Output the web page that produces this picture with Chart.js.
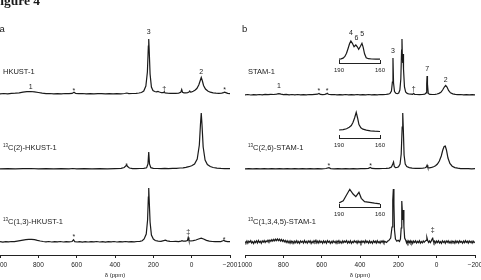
<!DOCTYPE html>
<html>
<head>
<meta charset="utf-8">
<script src="https://cdn.jsdelivr.net/npm/chart.js@4.4.1/dist/chart.umd.min.js"></script>
<style>
  body { margin:0; width:481px; height:280px; overflow:hidden; position:relative; background:#fff;
         font-family:"Liberation Sans", Arial, sans-serif; color:#1a1a1a; }
  canvas { position:absolute; }
  .lbl { position:absolute; font-size:7.5px; line-height:7.5px; white-space:nowrap; }
  .lbl sup { font-size:4.5px; vertical-align:2.6px; line-height:0; }
  .panel { position:absolute; font-size:9.5px; line-height:9.5px; }
  #fig { position:absolute; left:-8px; top:-6px; font:bold 13.5px/13.5px "Liberation Serif", serif; white-space:nowrap; }
</style>
</head>
<body>
<canvas id="specA" width="280" height="280" style="left:-30px;top:0"></canvas>
<canvas id="specB" width="280" height="280" style="left:215px;top:0"></canvas>
<canvas id="insetTop" width="81" height="60" style="left:319px;top:20px"></canvas>
<canvas id="insetMid" width="81" height="55" style="left:319px;top:100px"></canvas>
<canvas id="insetBot" width="81" height="44" style="left:319px;top:180px"></canvas>

<div id="fig">Figure 4</div>
<div class="panel" style="left:-0.5px;top:23.5px">a</div>
<div class="panel" style="left:242px;top:23.5px">b</div>
<div class="lbl" style="left:3px;top:68px">HKUST-1</div>
<div class="lbl" style="left:3px;top:143.5px"><sup>13</sup>C(2)-HKUST-1</div>
<div class="lbl" style="left:3px;top:218px"><sup>13</sup>C(1,3)-HKUST-1</div>
<div class="lbl" style="left:248px;top:68px">STAM-1</div>
<div class="lbl" style="left:248px;top:143.5px"><sup>13</sup>C(2,6)-STAM-1</div>
<div class="lbl" style="left:248px;top:218px"><sup>13</sup>C(1,3,4,5)-STAM-1</div>

<script>
const INK = '#1a1a1a';
const SANS = '"Liberation Sans", Arial, sans-serif';

// chemical shift ranges (ppm)
const ppmRange = [1000, -200];
const ppmStep = 200;
const insetRange = [190, 160];

// spectra, [ppm, intensity]
const hkust = [[1000,0.2],[980,0.5],[960,0.2],[940,0.6],[920,0.8],[900,1.2],[880,1.8],[860,2.3],[840,2.5],[820,2.2],[800,1.5],[780,0.8],[760,0.3],[740,0.5],[720,0.1],[700,0.4],[680,0.2],[660,0.5],[640,0.3],[624,0.6],[614,1.8],[605,0.5],[590,0.3],[570,0.5],[550,0.2],[530,0.4],[510,0.1],[490,0.4],[470,0.3],[450,0.1],[430,0.4],[410,0.2],[390,0.4],[370,0.2],[350,0.5],[338,1],[328,0.4],[310,0.5],[290,0.7],[275,1],[262,1.5],[250,3],[239,8],[231,22],[226,48],[224,55],[222,46],[217,20],[210,7],[202,3.5],[193,2.5],[184,2.2],[176,2.6],[168,2],[158,1.3],[148,1.3],[143,2.2],[139,1.1],[126,0.8],[112,0.6],[98,0.7],[83,0.6],[68,0.9],[57,1.6],[52,4.5],[48,1.8],[40,1.2],[30,1.2],[21,1.4],[14,2],[10,3],[6,2],[0,2.2],[-8,2.8],[-17,3.8],[-27,5.5],[-37,9],[-44,13],[-50,16.5],[-56,13],[-62,8.5],[-72,5],[-84,3],[-97,1.8],[-112,1.1],[-127,0.8],[-142,0.6],[-157,0.9],[-166,1.4],[-172,1.8],[-178,1.4],[-188,0.6],[-200,0.4]];

const hkustC2 = [[1000,0.2],[960,0.4],[920,0.1],[880,0.3],[840,0.5],[800,0.2],[760,0.4],[720,0.2],[680,0.3],[640,0.1],[620,0.5],[600,0.2],[560,0.3],[520,0.1],[480,0.3],[440,0.2],[400,0.4],[368,0.6],[352,1.5],[343,3.2],[339,3.5],[334,2.5],[325,1],[308,0.4],[290,0.3],[270,0.5],[250,0.7],[235,1.2],[228,5],[224,17],[220,5],[213,1.3],[200,0.6],[180,0.5],[160,0.4],[140,0.6],[120,0.4],[100,0.6],[80,0.7],[60,1],[45,1.2],[30,1.6],[15,2.3],[0,3.2],[-15,5],[-29,10],[-40,24],[-46,45],[-50,56],[-54,44],[-60,22],[-70,9],[-82,4.5],[-97,2.5],[-112,1.5],[-132,0.9],[-152,0.6],[-172,0.4],[-186,0.5],[-200,0.3]];

const hkustC13 = [[1000,0.3],[985,-0.2],[970,0.4],[955,0.1],[940,0.5],[925,0.3],[910,0.8],[895,1.3],[880,1.8],[865,2.3],[850,2.6],[835,2.7],[820,2.3],[805,1.6],[790,1],[775,0.5],[760,0.2],[745,0.5],[730,0],[715,0.4],[700,0.1],[685,0.5],[670,0],[655,0.4],[640,0.1],[624,0.5],[616,2.2],[610,0.3],[598,0],[585,0.4],[570,-0.1],[555,0.3],[540,0],[525,0.4],[510,0.1],[495,0.5],[480,0],[465,0.3],[450,-0.1],[435,0.4],[420,0.1],[405,0.5],[390,0],[375,0.3],[360,0.1],[345,0.5],[330,0.2],[315,0.4],[300,0.1],[285,0.5],[270,0.6],[258,1.2],[248,3],[237,8],[230,22],[226,45],[224,54],[222,44],[217,20],[210,7],[200,3],[190,1.5],[175,0.8],[160,0.7],[146,1.4],[137,1.8],[128,1.2],[113,0.6],[98,0.5],[83,0.6],[68,0.4],[56,0.9],[50,1.4],[44,0.8],[32,0.9],[22,1.5],[18,4.5],[14,1.3],[4,1],[-8,1.3],[-22,2],[-36,3],[-50,3.8],[-62,3],[-77,1.6],[-92,0.8],[-107,0.5],[-122,0.3],[-137,0.5],[-152,0.4],[-163,1.2],[-168,1.8],[-174,0.8],[-187,0.3],[-200,0.4]];

const stam = [[1000,0.2],[985,0.5],[970,0],[955,0.4],[940,0.1],[925,0.5],[910,0.2],[895,0.6],[880,0.3],[865,0.7],[850,0.5],[835,0.9],[823,1.4],[812,0.8],[800,0.4],[785,0.6],[770,0.1],[755,0.5],[740,0.2],[725,0.5],[710,0.1],[695,0.4],[680,0.2],[665,0.5],[650,0.3],[635,0.6],[622,0.8],[614,1.6],[607,0.6],[595,0.4],[583,0.6],[576,1.1],[571,1.7],[565,0.7],[550,0.3],[535,0.5],[520,0.1],[505,0.4],[490,0.2],[475,0.5],[460,0.1],[445,0.4],[430,0.2],[415,0.5],[400,0.1],[385,0.4],[370,0.2],[355,0.5],[340,0.2],[325,0.4],[310,0.1],[295,0.5],[280,0.3],[266,0.5],[254,0.8],[244,1.4],[236,4],[231,13],[228,37],[225,12],[220,3.5],[213,1.8],[205,1.3],[198,2],[192,5],[187,16],[183,45],[181,56],[179,38],[177,32],[175,38],[174,41],[172,26],[168,8],[162,3],[154,1.6],[145,1],[133,0.8],[125,0.7],[120,1.6],[115,0.6],[105,0.5],[90,0.3],[75,0.5],[62,0.8],[55,2.2],[52,11],[50,19],[48,11],[44,1.6],[36,0.6],[22,0.5],[8,0.7],[-2,1],[-12,1.6],[-22,2.6],[-31,5],[-40,8],[-47,9.5],[-54,8],[-62,4.5],[-72,2.2],[-84,1.1],[-97,0.6],[-110,0.3],[-125,0.5],[-140,0.1],[-155,0.4],[-170,0.2],[-185,0.4],[-200,0.2]];

const stamC26 = [[1000,0.2],[980,0.4],[960,0.1],[940,0.3],[920,0.2],[900,0.4],[880,0.1],[860,0.3],[840,0.2],[820,0.4],[800,0.1],[780,0.3],[760,0.2],[740,0.4],[720,0.1],[700,0.3],[680,0.2],[660,0.4],[640,0.2],[620,0.3],[600,0.2],[578,0.5],[562,1.3],[553,0.4],[535,0.2],[515,0.4],[495,0.2],[475,0.3],[455,0.1],[435,0.4],[415,0.2],[395,0.4],[375,0.3],[356,0.6],[346,1.6],[338,0.6],[320,0.4],[300,0.3],[282,0.5],[264,0.6],[248,0.9],[236,2],[229,5],[225,7],[221,2.5],[215,1.4],[207,1.5],[199,2.2],[191,5],[185,15],[180,42],[177,56],[174,40],[170,14],[164,5],[156,2.4],[143,1.4],[128,0.9],[110,0.7],[90,0.6],[72,0.8],[60,1.2],[54,2],[50,3.8],[46,1.4],[38,1.2],[26,1.6],[16,2.2],[6,3.2],[-4,5],[-14,8],[-24,13],[-32,19],[-39,22.5],[-45,23],[-51,19],[-59,11],[-69,5.5],[-81,2.8],[-95,1.4],[-110,0.8],[-125,0.4],[-145,0.3],[-165,0.4],[-183,0.2],[-200,0.3]];

const stamC1345 = [[1000,0.5],[995,-0.8],[990,1.1],[985,-1.2],[980,0.9],[975,-0.3],[970,1.3],[965,-1],[960,0.4],[955,-1.5],[950,0.8],[945,-0.6],[940,1.2],[935,-0.9],[930,1.5],[925,-0.4],[920,0.7],[915,-1.3],[910,1],[905,-0.2],[900,1.4],[895,-0.5],[890,1.1],[885,0.2],[880,1.8],[875,0.3],[870,1.9],[865,0.6],[860,2.4],[855,0.9],[850,2.6],[845,1.1],[840,2.9],[835,1.4],[830,3],[825,1.3],[820,2.8],[815,1],[810,2.5],[805,0.6],[800,2],[795,0.2],[790,1.5],[785,-0.4],[780,1.2],[775,-0.8],[770,0.9],[765,-1.2],[760,1.1],[755,-0.5],[750,0.6],[745,-1.4],[740,0.9],[735,-0.7],[730,1.3],[725,-1],[720,0.5],[715,-1.3],[710,1.1],[705,-0.3],[700,0.8],[695,-1.1],[690,1.4],[685,-0.6],[680,0.7],[675,-1.2],[670,1],[665,-0.4],[660,1.2],[655,-1.4],[650,0.6],[645,-0.8],[640,1.3],[635,-0.2],[630,1.8],[625,-0.9],[620,0.9],[615,-1.1],[610,1.2],[605,-0.5],[600,0.7],[595,-1.3],[590,1.1],[585,-0.6],[580,0.8],[575,-1.2],[570,1.3],[565,-0.3],[560,0.9],[555,-1.4],[550,0.6],[545,-0.9],[540,1.2],[535,-0.5],[530,0.7],[525,-1.3],[520,1],[515,-0.4],[510,1.3],[505,-1],[500,0.5],[495,-1.2],[490,1.1],[485,-0.6],[480,0.9],[475,-0.2],[470,1.4],[465,-1.1],[460,0.6],[455,-0.8],[450,1.2],[445,-1.4],[440,0.4],[435,-0.7],[430,1.3],[425,-0.3],[420,0.8],[415,-1.2],[410,1.1],[405,-0.6],[400,0.7],[395,-1.3],[390,1],[385,-0.4],[380,0.9],[375,-1.1],[370,1.4],[365,-0.5],[360,0.6],[355,-1.2],[350,1.1],[345,-0.8],[340,0.5],[335,-1.3],[330,1.2],[325,-0.4],[320,0.8],[315,-1],[310,1.3],[305,-0.6],[300,0.4],[295,-1.2],[290,1],[285,-0.3],[280,1.3],[275,-0.8],[270,0.6],[262,-0.4],[255,1],[250,1.5],[240,4],[233,15],[229,42],[226,53],[223,38],[220,12],[215,3],[208,0.8],[201,1.8],[194,0.6],[189,3],[185,14],[182,41],[179,30],[177,22],[174,32],[171,16],[167,4],[161,1.5],[157,-0.8],[154,0.9],[150,-1.1],[146,1],[142,-0.6],[138,1.2],[134,-1],[129,0.7],[125,-1.3],[120,0.9],[115,-0.5],[110,1.1],[105,-1],[100,0.6],[95,-0.7],[90,1.2],[85,-1.1],[80,0.5],[75,-0.9],[70,1],[65,-0.3],[60,0.8],[55,1.6],[51,4.5],[47,1.5],[42,-0.4],[38,1],[33,-0.6],[28,1.1],[24,3],[21,4.5],[18,1.2],[14,-0.8],[10,0.9],[5,-1.1],[0,1],[-5,-0.6],[-10,1.2],[-15,-1],[-20,0.4],[-25,-1.3],[-30,1.1],[-35,-0.5],[-40,0.8],[-45,-1.2],[-50,1],[-55,-0.3],[-60,1.3],[-65,-0.9],[-70,0.6],[-75,-1.2],[-80,1],[-85,-0.4],[-90,0.7],[-95,-1.3],[-100,1.1],[-105,-0.6],[-110,0.9],[-115,-1],[-120,1.2],[-125,-0.3],[-130,0.6],[-135,-1.2],[-140,1],[-145,-0.7],[-150,1.3],[-155,-0.5],[-160,0.8],[-165,-1.1],[-170,1],[-175,-0.4],[-180,0.7],[-185,-1.2],[-190,0.9],[-195,-0.6],[-200,0.3]];

// expanded carboxylate region (insets)
const stamZoom = [[190,0.2],[188.5,0.5],[187,1.2],[185.7,2.8],[184.5,6],[183.3,11],[182.3,15.5],[181.3,18.3],[180.2,16],[179,12.6],[177.7,14.3],[176.6,12.5],[175.6,10],[174.3,13],[173.2,16],[172.3,12],[171.3,5.5],[170.1,1.5],[168.5,0.6],[166,0.3],[163,0.2],[160,0.1]];
const stamC26Zoom = [[190,0],[187,0.4],[184.5,1.2],[182.5,2.8],[181,4.5],[179.8,7.5],[178.6,12],[177.4,17.7],[176.4,12],[175.4,5.5],[174,2.2],[172.5,0.8],[170,-0.2],[167,-0.8],[164,-1.2],[160,-1.5]];
const stamC1345Zoom = [[190,0.3],[186.9,2.6],[184.5,8.3],[182.1,14],[179.7,9.3],[177.7,6.6],[175.4,11],[173.7,5],[171.3,1.6],[167.6,1],[164,0.2],[160,-0.5]];

// peak assignments, [ppm, label level, text]
const hkustMarks = [[840,6.7,'1'],[614,3.2,'*'],[224,62,'3'],[143,5,'\u2020'],[-50,21.5,'2'],[-172,3.5,'*']];
const hkustC2Marks = [[339,3.2,'*']];
const hkustC13Marks = [[614,4.8,'*'],[18,9.7,'\u2021'],[-169,2.2,'*']];
const stamMarks = [[823,9,'1'],[614,3.5,'*'],[571,3.5,'*'],[228,44.3,'3'],[120,5.7,'\u2020'],[50,25.7,'7'],[-47,15,'2']];
const stamC26Marks = [[562,3.2,'*'],[344,3.2,'*']];
const stamC1345Marks = [[21,12,'\u2021']];
const stamZoomMarks = [[181.3,26,'4'],[177.3,21,'6'],[173,25.3,'5']];

// layout (pixels on the page)
const PLOT_TOP = 0, AXIS_Y = 255;
const baseA = [94, 169, 242];
const baseB = [95, 169, 242];

function yRange(base, top, bottom) {
  return { min: -(bottom - base), max: base - top };
}

function trace(points, axis) {
  return {
    data: points.map(([x, y]) => ({ x, y })),
    yAxisID: axis, showLine: true, borderColor: INK, borderWidth: 1.2,
    pointRadius: 0, tension: 0, fill: false
  };
}

function markPlugin(groups) {
  return {
    id: 'peakMarks',
    afterDatasetsDraw(chart) {
      const { ctx, scales } = chart;
      ctx.save();
      ctx.fillStyle = INK;
      ctx.font = '7px ' + SANS;
      ctx.textAlign = 'center';
      ctx.textBaseline = 'middle';
      groups.forEach(([axis, marks]) => {
        marks.forEach(([ppm, level, text]) => {
          ctx.fillText(text, scales.x.getPixelForValue(ppm), scales[axis].getPixelForValue(level));
        });
      });
      ctx.restore();
    }
  };
}

const tickText = v => (v < 0 ? '\u2212' + Math.abs(v) : String(v));

function drawPanel(id, spectra, baselines, marks, pad) {
  const scales = {
    x: {
      type: 'linear', reverse: true, min: ppmRange[1], max: ppmRange[0],
      ticks: { stepSize: ppmStep, autoSkip: false, maxRotation: 0, padding: 3,
               color: '#222', font: { family: SANS, size: 6.5 }, callback: tickText },
      grid: { drawOnChartArea: false, tickLength: 3, color: '#222' },
      border: { display: true, color: '#222', width: 1 },
      title: { display: true, text: '\u03b4 (ppm)', color: '#222',
               font: { family: SANS, size: 6 }, padding: { top: 0, bottom: 1 } },
      afterFit: s => { s.height = 25; }
    }
  };
  spectra.forEach((s, i) => {
    scales['y' + i] = { display: false, ...yRange(baselines[i], PLOT_TOP, AXIS_Y) };
  });
  new Chart(document.getElementById(id), {
    type: 'scatter',
    data: { datasets: spectra.map((s, i) => trace(s, 'y' + i)) },
    options: {
      responsive: false, animation: false, events: [],
      layout: { padding: { left: pad[0], right: pad[1], top: PLOT_TOP, bottom: 0 } },
      plugins: { legend: { display: false }, tooltip: { enabled: false } },
      scales
    },
    plugins: [markPlugin(marks.map((m, i) => ['y' + i, m]))]
  });
}

function drawInset(id, spectrum, marks, top, base, bracket) {
  new Chart(document.getElementById(id), {
    type: 'scatter',
    data: { datasets: [trace(spectrum, 'y0')] },
    options: {
      responsive: false, animation: false, events: [],
      layout: { padding: { left: 20, right: 20, top: 0, bottom: 0 } },
      plugins: { legend: { display: false }, tooltip: { enabled: false } },
      scales: {
        x: {
          type: 'linear', reverse: true, min: insetRange[1], max: insetRange[0],
          ticks: { stepSize: 30, autoSkip: false, maxRotation: 0, padding: 7,
                   color: '#222', font: { family: SANS, size: 6 }, callback: tickText },
          grid: { drawOnChartArea: false, tickLength: -3, color: '#222' },
          border: { display: true, color: '#222', width: 1 },
          afterFit: s => { s.height = 17; }
        },
        y0: { display: false, ...yRange(base, top, bracket) }
      }
    },
    plugins: [markPlugin([['y0', marks]])]
  });
}

drawPanel('specA', [hkust, hkustC2, hkustC13], baseA, [hkustMarks, hkustC2Marks, hkustC13Marks], [30, 20]);
drawPanel('specB', [stam, stamC26, stamC1345], baseB, [stamMarks, stamC26Marks, stamC1345Marks], [30, 20]);
drawInset('insetTop', stamZoom, stamZoomMarks, 20, 59.3, 63);
drawInset('insetMid', stamC26Zoom, [], 100, 130, 138);
drawInset('insetBot', stamC1345Zoom, [], 180, 203.3, 207);
</script>
</body>
</html>
